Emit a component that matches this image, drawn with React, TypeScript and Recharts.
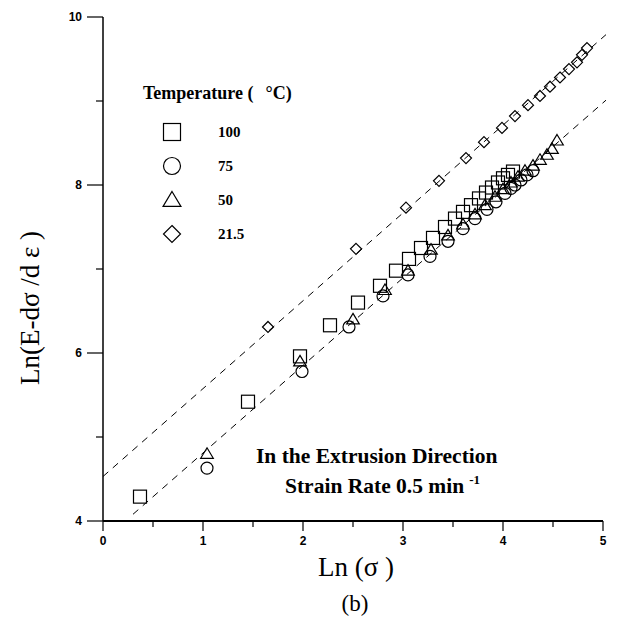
import React from 'react';
import { ScatterChart, Scatter, XAxis, YAxis, ReferenceLine } from 'recharts';

// Ln(sigma), Ln(E - dsigma/depsilon) pairs
const temp100 = [
  { x: 0.37, y: 4.29 }, { x: 1.45, y: 5.42 }, { x: 1.97, y: 5.96 }, { x: 2.27, y: 6.33 },
  { x: 2.55, y: 6.6 }, { x: 2.77, y: 6.8 }, { x: 2.93, y: 6.98 }, { x: 3.06, y: 7.12 },
  { x: 3.18, y: 7.25 }, { x: 3.3, y: 7.37 }, { x: 3.42, y: 7.5 }, { x: 3.52, y: 7.6 },
  { x: 3.6, y: 7.68 }, { x: 3.68, y: 7.76 }, { x: 3.76, y: 7.84 }, { x: 3.83, y: 7.91 },
  { x: 3.89, y: 7.97 }, { x: 3.95, y: 8.03 }, { x: 4.0, y: 8.08 }, { x: 4.05, y: 8.12 },
  { x: 4.1, y: 8.16 },
];
const temp75 = [
  { x: 1.04, y: 4.63 }, { x: 1.99, y: 5.78 }, { x: 2.46, y: 6.31 }, { x: 2.8, y: 6.68 },
  { x: 3.05, y: 6.93 }, { x: 3.27, y: 7.15 }, { x: 3.45, y: 7.33 }, { x: 3.6, y: 7.48 },
  { x: 3.72, y: 7.6 }, { x: 3.84, y: 7.71 }, { x: 3.93, y: 7.8 }, { x: 4.02, y: 7.9 },
  { x: 4.08, y: 7.96 }, { x: 4.12, y: 8.0 }, { x: 4.18, y: 8.06 }, { x: 4.24, y: 8.12 },
  { x: 4.3, y: 8.17 },
];
const temp50 = [
  { x: 1.04, y: 4.8 }, { x: 1.97, y: 5.9 }, { x: 2.5, y: 6.4 }, { x: 2.82, y: 6.75 },
  { x: 3.05, y: 6.98 }, { x: 3.28, y: 7.23 }, { x: 3.45, y: 7.4 }, { x: 3.6, y: 7.53 },
  { x: 3.72, y: 7.65 }, { x: 3.82, y: 7.76 }, { x: 3.92, y: 7.86 }, { x: 4.0, y: 7.95 },
  { x: 4.08, y: 8.03 }, { x: 4.15, y: 8.1 }, { x: 4.22, y: 8.17 }, { x: 4.3, y: 8.23 },
  { x: 4.37, y: 8.3 }, { x: 4.44, y: 8.36 }, { x: 4.49, y: 8.43 }, { x: 4.54, y: 8.53 },
];
const temp21 = [
  { x: 1.65, y: 6.31 }, { x: 2.53, y: 7.24 }, { x: 3.03, y: 7.73 }, { x: 3.36, y: 8.05 },
  { x: 3.63, y: 8.32 }, { x: 3.81, y: 8.51 }, { x: 3.99, y: 8.68 }, { x: 4.12, y: 8.82 },
  { x: 4.25, y: 8.95 }, { x: 4.37, y: 9.06 }, { x: 4.47, y: 9.17 }, { x: 4.57, y: 9.28 },
  { x: 4.66, y: 9.38 }, { x: 4.74, y: 9.46 }, { x: 4.79, y: 9.55 }, { x: 4.84, y: 9.63 },
];

// fitted dashed lines (end points)
const fitUpper = [{ x: 0, y: 4.53 }, { x: 5.03, y: 9.79 }];
const fitLower = [{ x: 0.3, y: 4.08 }, { x: 5.03, y: 9.01 }];

const xTicks = [0, 0.5, 1, 1.5, 2, 2.5, 3, 3.5, 4, 4.5, 5];
const yTicks = [4, 5, 6, 7, 8, 9, 10];

const legendItems = [
  { label: '100', kind: 'square' },
  { label: '75', kind: 'circle' },
  { label: '50', kind: 'triangle' },
  { label: '21.5', kind: 'diamond' },
];

const serif = '"Liberation Serif", "Times New Roman", serif';
const sans = '"Liberation Sans", Arial, sans-serif';

const Marker = ({ kind, cx, cy, r }: { kind: string; cx: number; cy: number; r: number }) => {
  const common = { fill: 'none', stroke: '#000', strokeWidth: 1.2 };
  if (kind === 'square') return <rect x={cx - r} y={cy - r} width={2 * r} height={2 * r} {...common} />;
  if (kind === 'circle') return <circle cx={cx} cy={cy} r={r} {...common} />;
  if (kind === 'triangle')
    return <polygon points={`${cx},${cy - r} ${cx + r * 1.05},${cy + r * 0.75} ${cx - r * 1.05},${cy + r * 0.75}`} {...common} />;
  return <polygon points={`${cx},${cy - r} ${cx + r},${cy} ${cx},${cy + r} ${cx - r},${cy}`} {...common} />;
};

const shapeFor = (kind: string, r: number) => (p: any) => <Marker kind={kind} cx={p.cx} cy={p.cy} r={r} />;

const YTick = ({ x, y, payload }: any) => {
  const major = payload.value % 2 === 0;
  return (
    <g>
      <line x1={x - (major ? 16 : 7)} x2={x} y1={y} y2={y} stroke="#000" strokeWidth={1.2} />
      {major && (
        <text x={x - 21} y={y + 4} textAnchor="end" fontFamily={sans} fontWeight="bold" fontSize={12} fill="#000">
          {payload.value}
        </text>
      )}
    </g>
  );
};

const XTick = ({ x, y, payload }: any) => {
  const major = Number.isInteger(payload.value);
  return (
    <g>
      <line x1={x} x2={x} y1={y} y2={y + (major ? 10 : 6)} stroke="#000" strokeWidth={1.2} />
      {major && (
        <text x={x} y={y + 24} textAnchor="middle" fontFamily={sans} fontWeight="bold" fontSize={12} fill="#000">
          {payload.value}
        </text>
      )}
    </g>
  );
};

export default function App() {
  return (
    <div style={{ position: 'absolute', left: 0, top: 0, width: 621, height: 634, background: '#fff' }}>
      <ScatterChart width={621} height={634} margin={{ top: 17, right: 18, left: 0, bottom: 73 }}>
        <XAxis
          type="number"
          dataKey="x"
          domain={[0, 5]}
          ticks={xTicks}
          height={40}
          tickSize={0}
          tickMargin={0}
          tickLine={false}
          tick={<XTick />}
          axisLine={{ stroke: '#000', strokeWidth: 2 }}
        />
        <YAxis
          type="number"
          dataKey="y"
          domain={[4, 10]}
          ticks={yTicks}
          width={103}
          tickSize={0}
          tickMargin={0}
          tickLine={false}
          tick={<YTick />}
          axisLine={{ stroke: '#000', strokeWidth: 1.5 }}
        />
        <ReferenceLine segment={fitUpper} stroke="#000" strokeWidth={1} strokeDasharray="7 6" ifOverflow="visible" />
        <ReferenceLine segment={fitLower} stroke="#000" strokeWidth={1} strokeDasharray="7 6" ifOverflow="visible" />
        <Scatter data={temp100} shape={shapeFor('square', 6.5)} isAnimationActive={false} />
        <Scatter data={temp75} shape={shapeFor('circle', 6)} isAnimationActive={false} />
        <Scatter data={temp50} shape={shapeFor('triangle', 6)} isAnimationActive={false} />
        <Scatter data={temp21} shape={shapeFor('diamond', 5.5)} isAnimationActive={false} />
      </ScatterChart>

      {/* legend and labels */}
      <svg width={621} height={634} style={{ position: 'absolute', left: 0, top: 0, pointerEvents: 'none' }}>
        <text x={143} y={99} fontFamily={serif} fontWeight="bold" fontSize={18} fill="#000">
          Temperature (<tspan dx={12}>°C)</tspan>
        </text>
        {legendItems.map((it, i) => (
          <g key={it.label}>
            <Marker kind={it.kind} cx={172} cy={132 + i * 34} r={8.5} />
            <text x={218} y={132 + i * 34 + 5} fontFamily={serif} fontWeight="bold" fontSize={15} fill="#000">
              {it.label}
            </text>
          </g>
        ))}
        <text x={256} y={463} fontFamily={serif} fontWeight="bold" fontSize={21.5} fill="#000">
          In the Extrusion Direction
        </text>
        <text x={285} y={493} fontFamily={serif} fontWeight="bold" fontSize={21.5} fill="#000">
          Strain Rate 0.5 min<tspan dx={5} dy={-9} fontSize={13}>-1</tspan>
        </text>
        <text x={356} y={576} textAnchor="middle" fontFamily={serif} fontSize={27} fill="#000">
          Ln (σ )
        </text>
        <text x={355} y={611} textAnchor="middle" fontFamily={serif} fontSize={23} fill="#000">
          (b)
        </text>
        <text
          x={0}
          y={0}
          transform="translate(39, 308) rotate(-90)"
          textAnchor="middle"
          fontFamily={serif}
          fontSize={27}
          fill="#000"
        >
          Ln(E-dσ /d ε )
        </text>
      </svg>
    </div>
  );
}
